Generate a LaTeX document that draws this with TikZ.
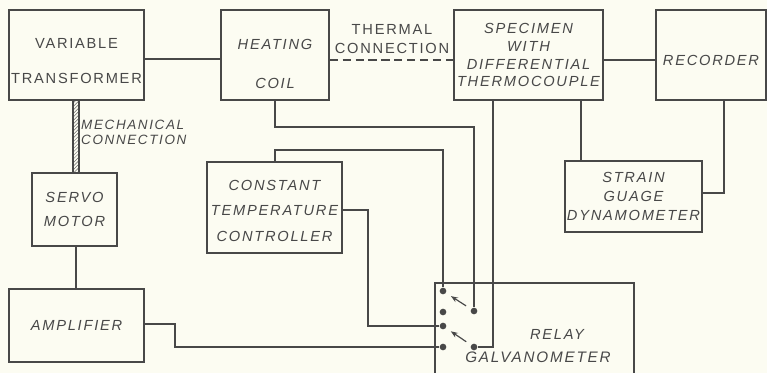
\documentclass[tikz,border=0pt]{standalone}
\usepackage{fontspec}
\setmainfont{Liberation Sans}[LetterSpace=12]
\usetikzlibrary{arrows.meta, patterns}
\definecolor{paper}{RGB}{252,252,242}
\definecolor{ink}{RGB}{72,72,72}
\tikzset{
    block/.style = {rectangle, draw=ink, line width=1.3pt, inner sep=0pt, align=center, text=ink},
    txt/.style = {align=center, text=ink, inner sep=0pt},
    lsp/.style = {font=\fontsize{12.5}{#1}\selectfont},
    lspi/.style = {font=\fontsize{12.5}{#1}\selectfont\itshape},
    wire/.style = {draw=ink, line width=1.3pt},
    contact/.style = {circle, fill=ink, inner sep=0pt, minimum size=0.2cm},
    switch/.style = {draw=ink, line width=1pt, -{Stealth[length=6pt, width=4.5pt]}, shorten >=5pt, shorten <=5pt}
}

\begin{document}
\begin{tikzpicture}[x=0.03cm, y=-0.03cm]
\fill[paper] (0,0) rectangle (767,373);
\useasboundingbox (0,0) rectangle (767,373);

\node (vt) [block, lsp=30.6, minimum width=4.05cm, minimum height=2.7cm] at (76.5,55) {\rule{0pt}{19pt}VARIABLE\\TRANSFORMER};
\node (hc) [block, lspi=34, minimum width=3.24cm, minimum height=2.7cm] at (275,55) {\rule{0pt}{24pt}HEATING\\COIL};
\node (sp) [block, lspi=15.3, minimum width=4.47cm, minimum height=2.7cm] at (528.5,55) {SPECIMEN\\WITH\\DIFFERENTIAL\\THERMOCOUPLE};
\node (rec) [block, lspi=15, minimum width=3.3cm, minimum height=2.7cm] at (711,55) {\rule{0pt}{17.5pt}RECORDER};
\node (sm) [block, lspi=21, minimum width=2.55cm, minimum height=2.19cm] at (74.5,209.5) {SERVO\\MOTOR};
\node (amp) [block, lspi=15, minimum width=4.05cm, minimum height=2.19cm] at (76.5,325.5) {AMPLIFIER};
\node (ctc) [block, lspi=21.7, minimum width=4.05cm, minimum height=2.73cm] at (274.5,207.5) {\rule{0pt}{14pt}CONSTANT\\TEMPERATURE\\CONTROLLER};
\node (sg) [block, lspi=16.6, minimum width=4.11cm, minimum height=2.13cm] at (633.5,196.5) {STRAIN\\GUAGE\\DYNAMOMETER};
\node (rg) [block, minimum width=5.97cm, minimum height=3.06cm] at (534.5,334) {};
\node (rly) [txt, lspi=15] at (557,334) {RELAY};
\node (galv) [txt, font=\fontsize{13}{15}\selectfont\itshape] at (538,357) {GALVANOMETER};

\node (c1) [contact] at (443,291) {};
\node (c2) [contact] at (443,312) {};
\node (c3) [contact] at (443,326) {};
\node (c4) [contact] at (443,347) {};
\node (pa) [contact] at (474,311) {};
\node (pb) [contact] at (474,347) {};

\node (tlbl) [txt, lsp=17] at (392,39) {THERMAL\\CONNECTION};
\node (mlbl) [txt, align=left, anchor=west, font=\fontsize{11.5}{13}\selectfont\itshape] at (81,132) {MECHANICAL\\CONNECTION};

\draw [wire] (vt.east |- 0,59) -- (hc.west |- 0,59);
\draw [wire, dash pattern=on 7pt off 4pt] (hc.east |- 0,60) -- (sp.west |- 0,60);
\draw [wire] (sp.east |- 0,60) -- (rec.west |- 0,60);
\draw [wire] (sp.south -| 581,0) -- (sg.north -| 581,0);
\draw [wire] (rec.south -| 724,0) |- (sg.east |- 0,193);
\draw [draw=ink, line width=1pt, pattern=north east lines, pattern color=ink!80] (vt.south -| 73,0) rectangle (sm.north -| 79,0);
\draw [wire] (sm.south -| 76,0) -- (amp.north -| 76,0);
\draw [wire] (hc.south) |- (pa |- 0,127) -- (pa);
\draw [wire] (sp.south -| 493,0) |- (pb);
\draw [wire] (ctc.north -| 275,0) |- (c1 |- 0,150) -- (c1);
\draw [wire] (ctc.east |- 0,210) -- (368,210) |- (c3);
\draw [wire] (amp.east |- 0,324) -- (175,324) |- (c4);
\draw [switch] (pa) -- (c1);
\draw [switch] (pb) -- (c3);
\end{tikzpicture}
\end{document}
